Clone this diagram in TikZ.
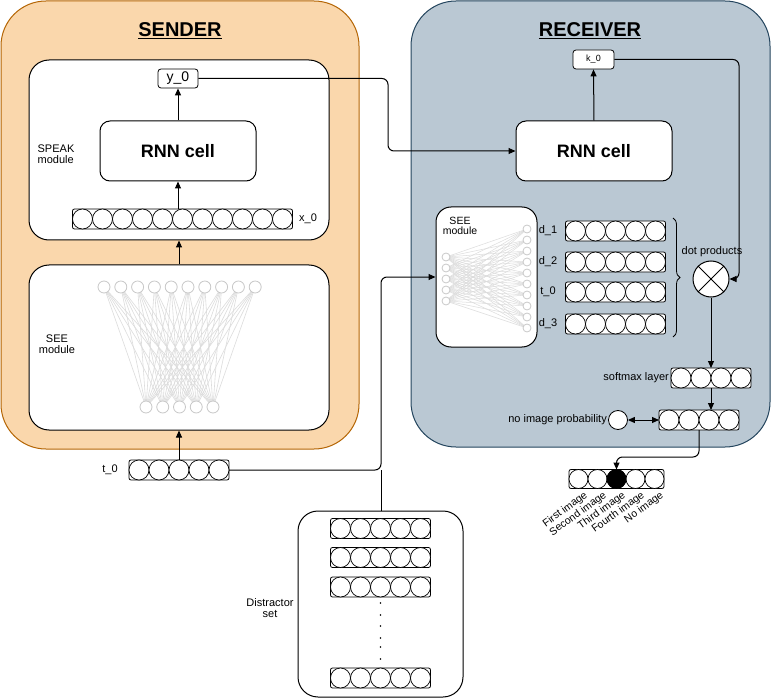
\documentclass[tikz,border=0pt]{standalone}
\usepackage{fontspec}
\setmainfont{Liberation Sans}
\usetikzlibrary{arrows.meta,decorations.pathreplacing}
\definecolor{sfill}{HTML}{FAD7AC}
\definecolor{sline}{HTML}{B46504}
\definecolor{rfill}{HTML}{BAC8D3}
\definecolor{rline}{HTML}{23445D}
\definecolor{netline}{HTML}{DCDCDC}
\definecolor{netcirc}{HTML}{C8C8C8}
\newcommand{\fs}[1]{\fontsize{#1}{#1}\selectfont}
\newcommand{\crow}[5]{% name, cx, cy, n, d
  \node[rowbox, minimum width={#4*#5pt}, minimum height={#5pt}] (#1) at (#2,#3) {};
  \foreach \i in {1,...,#4}{
    \node[rowcirc, minimum size={#5pt}] (#1-\i) at ({#2-#4*#5/2+(\i-0.5)*#5},#3) {};
  }
}
\tikzset{
  big/.style={rectangle, draw, line width=1pt, inner sep=0pt},
  modbox/.style={rectangle, draw, fill=white, line width=1pt, rounded corners=20pt, inner sep=0pt},
  rnnbox/.style={rectangle, draw, fill=white, line width=1pt, rounded corners=10pt, inner sep=0pt, font=\bfseries\fs{18}},
  smallbox/.style={rectangle, draw, fill=white, line width=0.8pt, rounded corners=3pt, inner sep=0pt},
  rowbox/.style={rectangle, draw, fill=white, line width=0.8pt, rounded corners=2pt, inner sep=0pt, outer sep=0pt},
  rowcirc/.style={circle, draw, fill=white, line width=0.7pt, inner sep=0pt, outer sep=0pt},
  title/.style={font=\bfseries\fs{20}},
  lab/.style={font=\fs{11}, align=center, inner sep=1pt},
  arr/.style={line width=1pt, -{Triangle[length=7pt,width=6pt]}},
  conn/.style={line width=1pt},
  netc/.style={circle, draw=netcirc, fill=white, line width=0.8pt, inner sep=0pt},
}
\begin{document}
\begin{tikzpicture}[x=1pt,y=-1pt]
\useasboundingbox (0,0) rectangle (772,698);

% ---------- SENDER ----------
\node[big, draw=sline, fill=sfill, rounded corners=45pt, minimum width=358pt, minimum height=448pt] (sender) at (180,225) {};
\node[title] (stitle) at (180,31) {\underline{SENDER}};
\node[modbox, minimum width=300pt, minimum height=180pt] (speak) at (179,150) {};
\node[lab, align=left] (speaklab) at (56,154) {SPEAK\\module};
\node[smallbox, minimum width=40pt, minimum height=19pt, font=\fs{14}] (y0) at (178,78.5) {y\_0};
\node[rnnbox, minimum width=156pt, minimum height=60pt] (rnnS) at (178,151) {RNN cell};
\crow{xrow}{182.5}{219}{11}{20}
\node[lab] (x0lab) at (308,219) {x\_0};

\node[modbox, minimum width=300pt, minimum height=165pt] (seeS) at (179,347.5) {};
\node[lab] (seeSlab) at (57,344) {SEE\\module};
% sender network
\foreach \a in {0,...,9}{
  \foreach \b in {0,...,4}{
    \draw[netline, line width=0.6pt] ({104+16.8*\a},287) -- ({146+16.75*\b},407);
  }
}
\foreach \a in {0,...,9}{ \node[netc, minimum size=12pt] (st\a) at ({104+16.8*\a},287) {}; }
\foreach \b in {0,...,4}{ \node[netc, minimum size=12pt] (sb\b) at ({146+16.75*\b},407) {}; }

\crow{t0row}{179}{470}{5}{20}
\node[lab] (t0lab) at (110,470) {t\_0};

\draw[arr] (rnnS.south |- xrow.north) -- (rnnS.south);
\draw[arr] (rnnS.north) -- (y0.south);
\draw[arr] (seeS.north) -- (speak.south);
\draw[arr] (t0row.north) -- (seeS.south);

% ---------- RECEIVER ----------
\node[big, draw=rline, fill=rfill, rounded corners=45pt, minimum width=359pt, minimum height=446pt] (receiver) at (590.5,224) {};
\node[title] (rtitle) at (590,31) {\underline{RECEIVER}};
\node[smallbox, minimum width=41pt, minimum height=19pt, font=\fs{9}] (k0) at (593.5,59.5) {k\_0};
\node[rnnbox, minimum width=156pt, minimum height=60pt] (rnnR) at (594,151) {RNN cell};
\draw[arr] (rnnR.north) -- (k0.south);

\node[modbox, rounded corners=15pt, minimum width=101pt, minimum height=140pt] (seeR) at (486.5,277) {};
\node[lab, font=\fs{10.5}] (seeRlab) at (460,226) {SEE\\module};
\foreach \a in {0,...,4}{
  \foreach \b in {0,...,9}{
    \draw[netline, line width=0.5pt] (446,{257+11*\a}) -- (527,{229+11*\b});
  }
}
\foreach \a in {0,...,4}{ \node[netc, minimum size=8pt] (rl\a) at (446,{257+11*\a}) {}; }
\foreach \b in {0,...,9}{ \node[netc, minimum size=8pt] (rr\b) at (527,{229+11*\b}) {}; }

\crow{d1row}{615.5}{231}{5}{20}
\crow{d2row}{615.5}{262}{5}{20}
\crow{trow}{615.5}{292}{5}{20}
\crow{d3row}{615.5}{324}{5}{20}
\node[lab] (d1lab) at (548,231) {d\_1};
\node[lab] (d2lab) at (548,262) {d\_2};
\node[lab] (tlab) at (548,292) {t\_0};
\node[lab] (d3lab) at (548,324) {d\_3};
\draw[decorate, decoration={brace, amplitude=7pt}, line width=0.8pt] (673,218) -- (673,337);

\node[lab] (dotlab) at (712,252) {dot products};
\node[circle, draw, fill=white, line width=1pt, minimum size=36pt, inner sep=0pt] (dot) at (711,279) {};
\draw[line width=0.8pt] (dot.north west) -- (dot.south east) (dot.north east) -- (dot.south west);

\crow{smax}{711}{378}{4}{20}
\node[lab, anchor=east] (smaxlab) at (670,378) {softmax layer};
\crow{prow}{699}{420}{4}{20}
\node[circle, draw, fill=white, line width=0.8pt, minimum size=19pt, inner sep=0pt] (nip) at (618,420) {};
\node[lab, anchor=east] (niplab) at (608,420) {no image probability};

\draw[arr] (dot.south) -- (smax.north);
\draw[arr] (smax.south) -- (smax.south |- prow.north);
\draw[line width=1pt, {Triangle[length=7pt,width=6pt]}-{Triangle[length=7pt,width=6pt]}] (nip.east) -- (prow.west);

% ---------- final choice ----------
\crow{fin}{616.5}{479}{5}{19}
\node[circle, fill=black, draw, line width=0.7pt, minimum size=19pt, inner sep=0pt] (finsel) at (fin-3) {};
\coordinate (turn) at (699,457);
\draw[arr, rounded corners=6pt] (prow.south) -- (turn) -- (fin-3 |- turn) -- (fin.north -| fin-3);
\foreach \i/\t in {1/First image,2/Second image,3/Third image,4/Fourth image,5/No image}{
  \node[font=\fs{10.5}, rotate=36, anchor=north east, inner sep=0.5pt] (fl\i) at ([xshift=5pt,yshift=-1pt]fin-\i.south) {\t};
}

% ---------- distractor set ----------
\node[modbox, minimum width=165pt, minimum height=186pt] (dist) at (380.5,604) {};
\crow{ds1}{380.5}{528.5}{5}{20}
\crow{ds2}{380.5}{557.5}{5}{20}
\crow{ds3}{380.5}{587}{5}{20}
\crow{ds4}{380.5}{678}{5}{20}
\foreach \y in {603,615,626,638,647,659}{ \fill (380.5,\y) circle[radius=0.8pt]; }
\node[lab] (distlab) at (270,608) {Distractor\\set};

% ---------- connectors ----------
\coordinate (j1) at (381,470);
\coordinate (j2) at (381,277);
\coordinate (j3) at (388,78.5);
\coordinate (j4) at (388,151);
\coordinate (k1) at (739,59.5);
\coordinate (k2) at (739,279);
\draw[arr, rounded corners=6pt] (y0.east) -- (j3) -- (j4) -- (rnnR.west);
\draw[arr, rounded corners=6pt] (t0row.east) -- (j1) -- (j2) -- (seeR.west);
\draw[conn] (dist.north -| j1) -- (j1);
\draw[arr, rounded corners=6pt] (k0.east) -- (k1) -- (k2) -- (dot.east);
\end{tikzpicture}
\end{document}
